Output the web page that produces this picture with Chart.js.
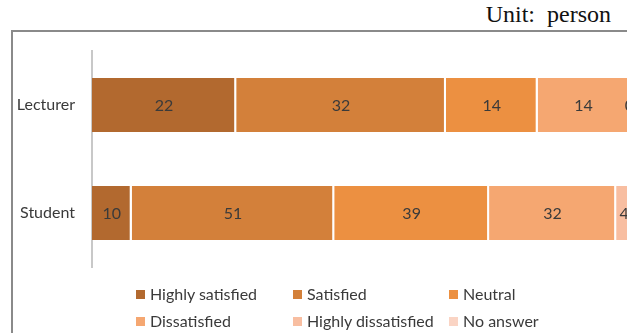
<!DOCTYPE html>
<html>
<head>
<meta charset="utf-8">
<script src="https://cdn.jsdelivr.net/npm/chart.js@4"></script>
<style>
  html, body { margin: 0; padding: 0; background: #fff; overflow: hidden; }
  #wrap { position: relative; width: 627px; height: 333px; overflow: hidden; }
  #myChart { position: absolute; left: 0; top: 0; }
  .unit { position: absolute; right: 16px; top: 2px; font: 24px "Liberation Serif", "Times New Roman", serif; line-height: 1; color: #111; white-space: pre; }
  .frameTop { position: absolute; left: 11px; top: 30px; width: 640px; height: 2px; background: #8a8a8a; }
  .frameLeft { position: absolute; left: 11px; top: 30px; width: 2px; height: 320px; background: #8a8a8a; }
  .lg { position: absolute; font: 16px Lato, sans-serif; color: #3a3a3a; line-height: 1; white-space: nowrap; }
  .lg i { display: inline-block; width: 9px; height: 9px; margin-right: 5px; vertical-align: 1px; }
</style>
</head>
<body>
<div id="wrap">
  <div class="unit">Unit:  person</div>
  <div class="frameTop"></div>
  <div class="frameLeft"></div>
  <canvas id="myChart" width="700" height="333"></canvas>
  <div id="legend"></div>
</div>
<script>
const groups = ["Lecturer", "Student"];
const answers = ["Highly satisfied", "Satisfied", "Neutral", "Dissatisfied", "Highly dissatisfied", "No answer"];
// counts per answer: [Lecturer, Student]
const highlySatisfied = [22, 10];
const satisfied = [32, 51];
const neutral = [14, 39];
const dissatisfied = [14, 32];
const highlyDissatisfied = [0, 4];
const noAnswer = [1, 1];
const colors = ["#B2692F", "#D3803A", "#EC9041", "#F5A771", "#F8BEA1", "#FAD4C4"];

const series = [highlySatisfied, satisfied, neutral, dissatisfied, highlyDissatisfied, noAnswer];
const totals = groups.map((g, i) => series.reduce((s, arr) => s + arr[i], 0));

const valueLabels = {
  id: "valueLabels",
  afterDatasetsDraw(chart) {
    const c = chart.ctx;
    c.save();
    c.font = "16px Lato, sans-serif";
    c.fillStyle = "#3a3a3a";
    c.textAlign = "center";
    c.textBaseline = "middle";
    chart.data.datasets.forEach((ds, di) => {
      chart.getDatasetMeta(di).data.forEach((bar, i) => {
        const x = (bar.x + bar.base) / 2;
        c.fillText(String(ds.counts[i]), x, bar.y + 1);
      });
    });
    c.restore();
  },
};

const ctx = document.getElementById("myChart").getContext("2d");
new Chart(ctx, {
  type: "bar",
  data: {
    labels: groups,
    datasets: series.map((arr, k) => ({
      label: answers[k],
      counts: arr,
      data: arr.map((v, i) => (v / totals[i]) * 100),
      backgroundColor: colors[k],
      borderColor: "#ffffff",
      borderWidth: { top: 0, bottom: 0, left: 0, right: 2 },
      borderSkipped: false,
      barPercentage: 0.5,
      categoryPercentage: 1,
    })),
  },
  options: {
    indexAxis: "y",
    responsive: false,
    animation: false,
    layout: { padding: { left: 0, top: 51, right: 64, bottom: 66 } },
    plugins: { legend: { display: false }, tooltip: { enabled: false } },
    scales: {
      x: { stacked: true, min: 0, max: 100, display: false },
      y: {
        stacked: true,
        grid: { display: false },
        border: { display: true, color: "#c8c8c8", width: 2 },
        ticks: { color: "#3a3a3a", font: { family: "Lato", size: 16 }, padding: 9 },
        afterFit(scale) { scale.width = 92; },
      },
    },
  },
  plugins: [valueLabels],
});

// legend laid out in three columns, two rows
const legendCols = [136, 293, 449];
const legendRows = [286, 313];
const legend = document.getElementById("legend");
answers.forEach((name, k) => {
  const d = document.createElement("div");
  d.className = "lg";
  d.style.left = legendCols[k % 3] + "px";
  d.style.top = legendRows[Math.floor(k / 3)] + "px";
  d.innerHTML = '<i style="background:' + colors[k] + '"></i>' + name;
  legend.appendChild(d);
});
</script>
</body>
</html>
